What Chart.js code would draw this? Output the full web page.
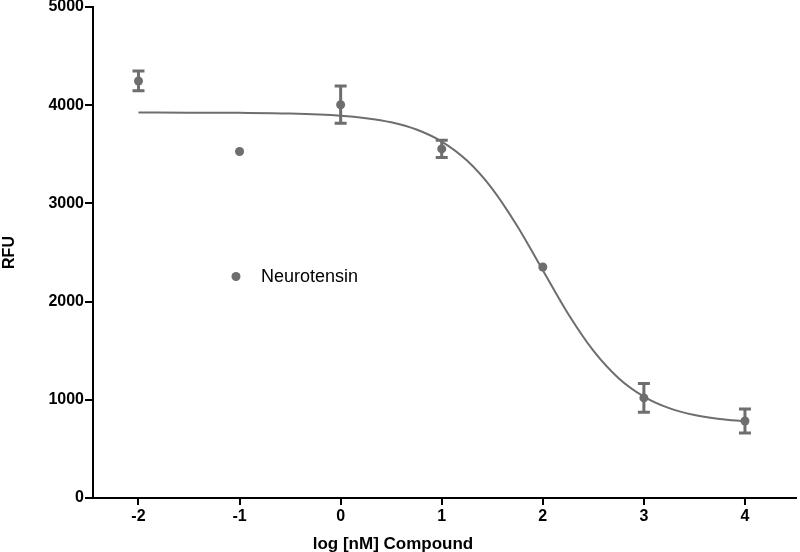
<!DOCTYPE html>
<html><head><meta charset="utf-8">
<script src="https://cdn.jsdelivr.net/npm/chart.js@4"></script>
<style>html,body{margin:0;padding:0;background:#fff}#wrap{width:800px;height:552px;position:relative}</style>
</head><body><div id="wrap"><canvas id="c"></canvas></div>
<script>
// ---- data ----
const logConc = [-2, -1, 0, 1, 2, 3, 4];
const rfuMean = [4247, 3528, 4005, 3555, 2352, 1019, 784];
const rfuErr  = [100, 0, 190, 87, 0, 146, 122];
// fitted curve
const fitX = [-2, -1.5, -1, -0.5, 0, 0.25, 0.5, 0.75, 1, 1.25, 1.5, 1.75, 2, 2.25, 2.5, 2.75, 3, 3.25, 3.5, 3.75, 4];
const fitY = [3925, 3924, 3922, 3915, 3893, 3868, 3826, 3752, 3630, 3436, 3149, 2765, 2319, 1876, 1500, 1220, 1033, 915, 845, 804, 781];
const xTicks = [-2, -1, 0, 1, 2, 3, 4];
const yTicks = [0, 1000, 2000, 3000, 4000, 5000];
const seriesName = 'Neurotensin';
const xTitle = 'log [nM] Compound';
const yTitle = 'RFU';

const GREY = '#6e6e6e';
const FONT = '"Liberation Sans", Arial, Helvetica, sans-serif';

const errorBars = {
  id: 'errorBars',
  afterDatasetsDraw(chart) {
    const ctx = chart.ctx, xs = chart.scales.x, ys = chart.scales.y;
    ctx.save();
    ctx.strokeStyle = GREY;
    ctx.lineWidth = 3;
    ctx.lineCap = 'butt';
    logConc.forEach((x, i) => {
      const e = rfuErr[i];
      if (!e) return;
      const px = xs.getPixelForValue(x);
      const y1 = ys.getPixelForValue(rfuMean[i] + e);
      const y2 = ys.getPixelForValue(rfuMean[i] - e);
      ctx.beginPath();
      ctx.moveTo(px, y1); ctx.lineTo(px, y2);
      ctx.moveTo(px - 6, y1); ctx.lineTo(px + 6, y1);
      ctx.moveTo(px - 6, y2); ctx.lineTo(px + 6, y2);
      ctx.stroke();
    });
    ctx.restore();
  }
};

const textPlugin = {
  id: 'texts',
  afterDraw(chart) {
    const ctx = chart.ctx, a = chart.chartArea;
    ctx.save();
    // legend inside plot
    ctx.fillStyle = GREY;
    ctx.beginPath();
    ctx.arc(236, 276.5, 4.5, 0, Math.PI * 2);
    ctx.fill();
    ctx.fillStyle = '#000';
    ctx.font = '18px ' + FONT;
    ctx.textAlign = 'left';
    ctx.textBaseline = 'middle';
    ctx.fillText(seriesName, 261, 277);
    // x title
    ctx.font = 'bold 17px ' + FONT;
    ctx.textAlign = 'center';
    ctx.textBaseline = 'alphabetic';
    ctx.fillText(xTitle, 393, 549);
    // y title
    ctx.font = 'bold 16px ' + FONT;
    ctx.translate(14, (a.top + a.bottom) / 2);
    ctx.rotate(-Math.PI / 2);
    ctx.textBaseline = 'alphabetic';
    ctx.fillText(yTitle, 0, 0);
    ctx.restore();
  }
};

new Chart(document.getElementById('c'), {
  type: 'scatter',
  data: {
    datasets: [
      {
        label: seriesName,
        data: logConc.map((x, i) => ({ x: x, y: rfuMean[i] })),
        backgroundColor: GREY,
        borderColor: GREY,
        pointRadius: 4.5,
        pointHoverRadius: 4.5,
        pointBorderWidth: 0,
        showLine: false
      },
      {
        label: 'fit',
        data: fitX.map((x, i) => ({ x: x, y: fitY[i] })),
        borderColor: GREY,
        backgroundColor: GREY,
        borderWidth: 2,
        pointRadius: 0,
        showLine: true,
        cubicInterpolationMode: 'monotone'
      }
    ]
  },
  options: {
    responsive: true,
    maintainAspectRatio: false,
    animation: false,
    events: [],
    layout: { padding: { top: 6, right: 0, left: 0, bottom: 0 } },
    plugins: { legend: { display: false }, tooltip: { enabled: false } },
    scales: {
      x: {
        type: 'linear',
        min: -2.45,
        max: 4.5,
        afterBuildTicks: s => { s.ticks = xTicks.map(v => ({ value: v })); },
        afterFit: s => { s.height = 54; },
        grid: { display: true, drawOnChartArea: false, drawTicks: true, tickLength: 7, color: '#000', lineWidth: 2 },
        border: { display: true, color: '#000', width: 2 },
        ticks: { color: '#000', padding: 2, callback: v => String(v), font: { family: FONT, size: 16, weight: 'bold' } },
        title: { display: false }
      },
      y: {
        type: 'linear',
        min: 0,
        max: 5000,
        afterBuildTicks: s => { s.ticks = yTicks.map(v => ({ value: v })); },
        afterFit: s => { s.width = 93; },
        grid: { display: true, drawOnChartArea: false, drawTicks: true, tickLength: 8, color: '#000', lineWidth: 2 },
        border: { display: true, color: '#000', width: 2 },
        ticks: { color: '#000', padding: 1, callback: v => String(v), font: { family: FONT, size: 16, weight: 'bold', lineHeight: 0.75 } },
        title: { display: false }
      }
    }
  },
  plugins: [errorBars, textPlugin]
});
</script></body></html>
